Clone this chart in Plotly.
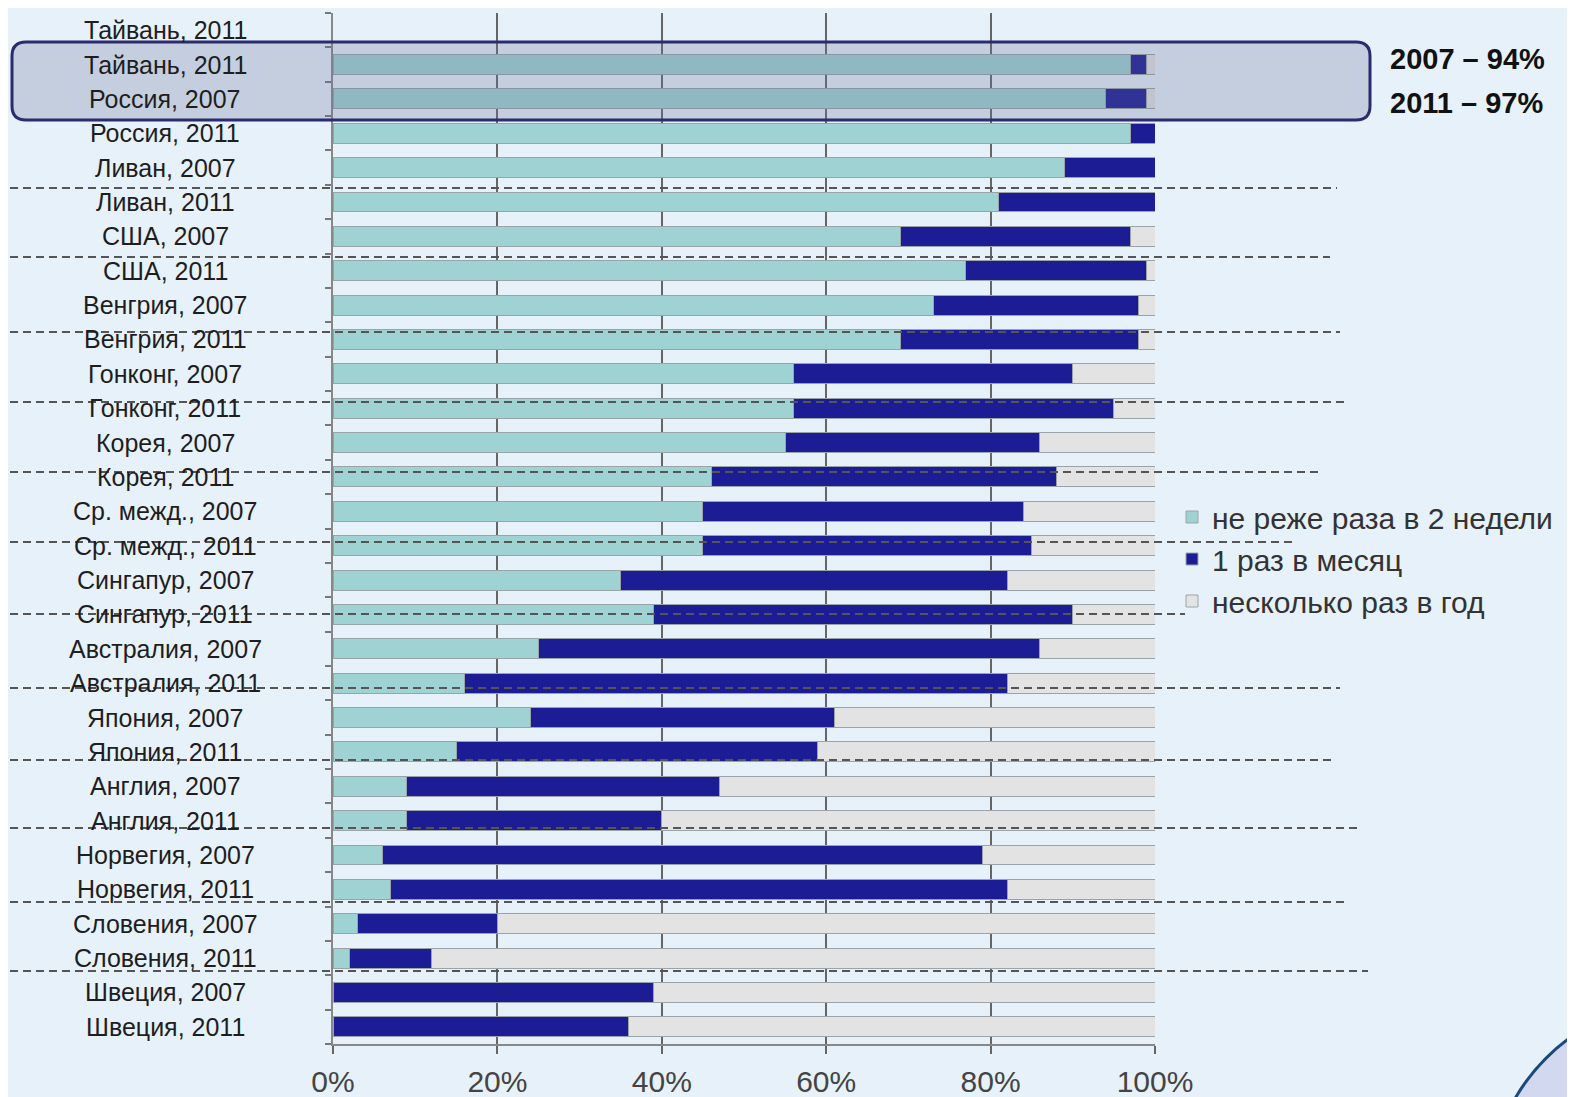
import plotly.graph_objects as go

# ---------------- data ----------------
labels = [
    "Тайвань, 2011", "Тайвань, 2011", "Россия, 2007", "Россия, 2011",
    "Ливан, 2007", "Ливан, 2011", "США, 2007", "США, 2011",
    "Венгрия, 2007", "Венгрия, 2011", "Гонконг, 2007", "Гонконг, 2011",
    "Корея, 2007", "Корея, 2011", "Ср. межд., 2007", "Ср. межд., 2011",
    "Сингапур, 2007", "Сингапур, 2011", "Австралия, 2007", "Австралия, 2011",
    "Япония, 2007", "Япония, 2011", "Англия, 2007", "Англия, 2011",
    "Норвегия, 2007", "Норвегия, 2011", "Словения, 2007", "Словения, 2011",
    "Швеция, 2007", "Швеция, 2011",
]
frequent = [None, 97, 94, 97, 89, 81, 69, 77, 73, 69, 56, 56, 55, 46, 45, 45,
            35, 39, 25, 16, 24, 15, 9, 9, 6, 7, 3, 2, 0, 0]
monthly = [None, 2, 5, 3, 11, 19, 28, 22, 25, 29, 34, 39, 31, 42, 39, 40,
           47, 51, 61, 66, 37, 44, 38, 31, 73, 75, 17, 10, 39, 36]
yearly = [None, 1, 1, 0, 0, 0, 3, 1, 2, 2, 10, 5, 14, 12, 16, 15,
          18, 10, 14, 18, 39, 41, 53, 60, 21, 18, 80, 88, 61, 64]
series_names = ["не реже раза в 2 недели", "1 раз в месяц", "несколько раз в год"]
x_ticks = [0, 20, 40, 60, 80, 100]
x_ticklabels = ["0%", "20%", "40%", "60%", "80%", "100%"]
callout = ["2007 – 94%", "2011 – 97%"]

# ---------------- geometry helpers (screen pixels) ----------------
OFF = 8                      # default page margin around the plot div
SW, SH = 1575, 1097
W, H = SW - OFF, SH - OFF
L, R, T, B = 333, 1155, 13, 1044


def px(x):
    return (x - L) / (R - L)


def py(y):
    return 1 - (y - T) / (B - T)


FONT = "Liberation Sans, Arial, sans-serif"
rows = list(range(len(labels)))

colors = ["#9fd3d3", "#1c1c94", "#e3e3e3"]
fig = go.Figure()
for name, vals, col in zip(series_names, [frequent, monthly, yearly], colors):
    fig.add_trace(go.Bar(
        y=rows, x=vals, name=name, orientation="h",
        marker=dict(color=col, line=dict(color="#9aa4a8", width=1)),
        legendgroup=name,
    ))

fig.update_layout(
    width=W, height=H,
    margin=dict(l=L - OFF, r=W - (R - OFF), t=T - OFF, b=H - (B - OFF), pad=0,
                autoexpand=False),
    barmode="stack", bargap=0.42,
    paper_bgcolor="#e7f1f9", plot_bgcolor="rgba(0,0,0,0)",
    showlegend=True,
    legend=dict(
        x=px(1172), y=py(491), xanchor="left", yanchor="top",
        font=dict(family=FONT, size=30, color="#333"),
        bgcolor="rgba(0,0,0,0)", traceorder="normal", tracegroupgap=7,
        itemwidth=30,
    ),
)
fig.update_xaxes(
    range=[0, 100], tickvals=x_ticks, ticktext=x_ticklabels,
    showgrid=True, gridcolor="#666", gridwidth=2,
    showline=True, linecolor="#888", linewidth=2,
    ticks="outside", ticklen=8, tickcolor="#666", tickwidth=2,
    tickfont=dict(family=FONT, size=30, color="#444"),
    ticklabelstandoff=2, automargin=False,
    zeroline=False, fixedrange=True,
)
fig.update_yaxes(
    range=[len(labels) - 0.5, -0.5],
    tickvals=[i - 0.5 for i in range(len(labels) + 1)],
    showticklabels=False, ticks="outside", ticklen=6, tickcolor="#777", tickwidth=2,
    showline=True, linecolor="#888", linewidth=2, automargin=False,
    showgrid=False, zeroline=False,
)

# category labels (centered, as in the reference)
for i, lab in enumerate(labels):
    fig.add_annotation(
        x=px(165), xref="paper", y=i, yref="y", text=lab, showarrow=False,
        xanchor="center", yanchor="middle",
        font=dict(family=FONT, size=25, color="#1e1e1e"),
    )

# dashed decorative dividers (screen y, end x)
dividers = [(188, 1337), (257, 1330), (332, 1340), (402, 1345), (472, 1320),
            (542, 1293), (614, 1185), (688, 1340), (760, 1335), (828, 1360),
            (902, 1345), (971, 1368)]
for yy, xe in dividers:
    fig.add_shape(type="line", xref="paper", yref="paper",
                  x0=px(10), x1=px(xe), y0=py(yy), y1=py(yy),
                  line=dict(color="#555", width=2, dash="8px,5px"), layer="above")

# highlighted rounded box
x0, x1, y0, y1, r = 12, 1370, 42, 120, 14
path = (f"M {px(x0 + r)},{py(y0)} L {px(x1 - r)},{py(y0)} "
        f"Q {px(x1)},{py(y0)} {px(x1)},{py(y0 + r)} "
        f"L {px(x1)},{py(y1 - r)} Q {px(x1)},{py(y1)} {px(x1 - r)},{py(y1)} "
        f"L {px(x0 + r)},{py(y1)} Q {px(x0)},{py(y1)} {px(x0)},{py(y1 - r)} "
        f"L {px(x0)},{py(y0 + r)} Q {px(x0)},{py(y0)} {px(x0 + r)},{py(y0)} Z")
fig.add_shape(type="path", path=path, xref="paper", yref="paper",
              fillcolor="rgba(105,110,150,0.27)",
              line=dict(color="#2b2b70", width=3), layer="above")

for txt, yy in zip(callout, [59, 103]):
    fig.add_annotation(
        x=px(1388), xref="paper", y=py(yy), yref="paper", text=f"<b>{txt}</b>",
        showarrow=False, xanchor="left", yanchor="middle",
        font=dict(family=FONT, size=29, color="#111"),
    )

# decorative circle in the bottom-right corner
cx, cy, rr = 1684, 1196, 195
fig.add_shape(type="circle", xref="paper", yref="paper",
              x0=px(cx - rr), x1=px(cx + rr), y0=py(cy + rr), y1=py(cy - rr),
              fillcolor="#d2d8f0", line=dict(color="#1a4a7a", width=3), layer="above")

fig.write_html("out.html")
